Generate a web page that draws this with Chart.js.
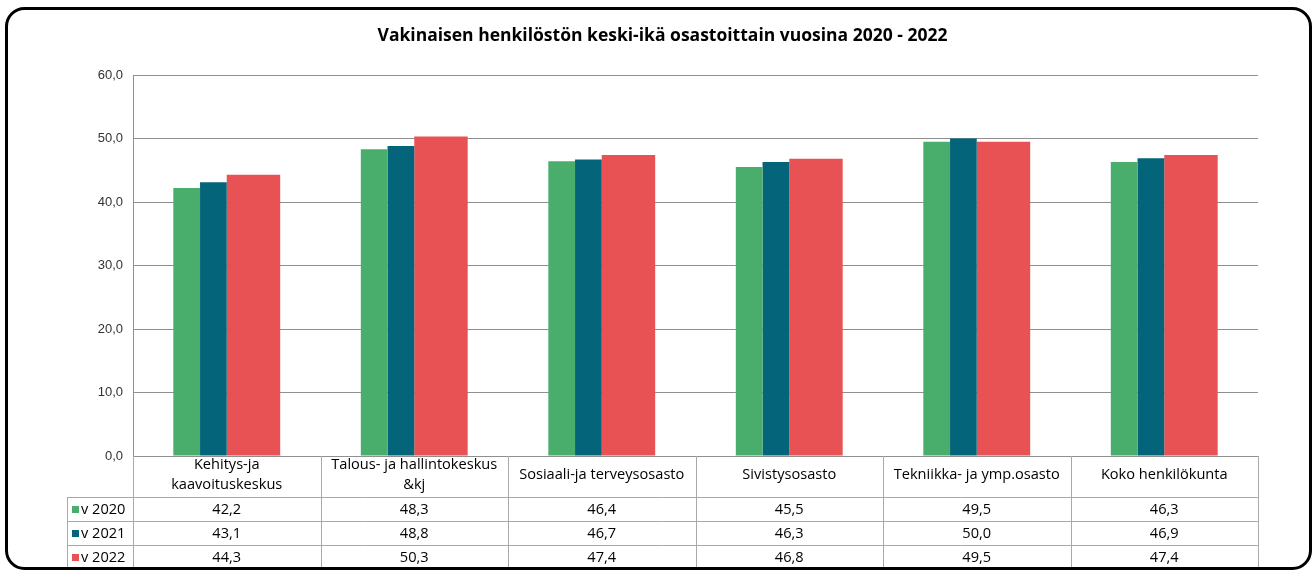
<!DOCTYPE html>
<html><head><meta charset="utf-8">
<script src="https://cdn.jsdelivr.net/npm/chart.js@4"></script>
<style>html,body{margin:0;padding:0;background:#fff}#wrap{width:1315px;height:570px;position:relative}</style>
</head><body><div id="wrap"><canvas id="c" width="1315" height="570"></canvas></div>
<script>
const categories = [['Kehitys-ja','kaavoituskeskus'],['Talous- ja hallintokeskus','&kj'],['Sosiaali-ja terveysosasto'],['Sivistysosasto'],['Tekniikka- ja ymp.osasto'],['Koko henkilökunta']];
const seriesNames = ['v 2020','v 2021','v 2022'];
const v2020 = [42.2,48.3,46.4,45.5,49.5,46.3];
const v2021 = [43.1,48.8,46.7,46.3,50.0,46.9];
const v2022 = [44.3,50.3,47.4,46.8,49.5,47.4];
const yMin = 0, yMax = 60, yStep = 10;
const colors = ['#49ae6c','#04657a','#e85254'];
const titleText = 'Vakinaisen henkilöstön keski-ikä osastoittain vuosina 2020 - 2022';

const seriesValues = [v2020, v2021, v2022];
const fmt = v => v.toFixed(1).replace('.', ',');

// Excel-style group: 2020 and 2021 bars single width, 2022 bar double width
const groupFraction = 0.57;
const barUnits = [1, 1, 2];
const barPlugin = {
  id: 'barLayout',
  afterDatasetsUpdate(chart) {
    const xs = chart.scales.x;
    const step = xs.width / categories.length;
    const total = barUnits.reduce((a, b) => a + b, 0);
    const u = step * groupFraction / total;
    chart.data.datasets.forEach((ds, i) => {
      const meta = chart.getDatasetMeta(i);
      const startUnits = barUnits.slice(0, i).reduce((a, b) => a + b, 0);
      const off = (startUnits + barUnits[i] / 2 - total / 2) * u;
      meta.data.forEach((el, j) => {
        el.x = xs.getPixelForValue(j) + off;
        el.width = barUnits[i] * u;
      });
    });
  }
};

const tableFont = '14.6px "Open Sans"';
const tablePlugin = {
  id: 'dataTable',
  afterDraw(chart) {
    const { ctx, chartArea: a, scales: { x } } = chart;
    const n = categories.length;
    const step = x.width / n;
    const headerBottom = a.bottom + 41;
    const rowH = 24;
    const legendLeft = a.left - 66;
    const bottom = headerBottom + rowH * seriesValues.length;
    const line = (x1, y1, x2, y2) => { ctx.beginPath(); ctx.moveTo(x1, y1); ctx.lineTo(x2, y2); ctx.stroke(); };
    ctx.save();
    ctx.strokeStyle = '#a9a9a9';
    ctx.lineWidth = 1;
    for (let r = 0; r <= seriesValues.length; r++) {
      const y = Math.round(headerBottom + r * rowH) + 0.5;
      line(legendLeft, y, a.right, y);
    }
    for (let j = 0; j <= n; j++) {
      const xx = Math.round(a.left + j * step) + 0.5;
      line(xx, a.bottom, xx, bottom);
    }
    line(legendLeft + 0.5, headerBottom, legendLeft + 0.5, bottom);
    ctx.font = tableFont;
    ctx.textBaseline = 'middle';
    seriesValues.forEach((arr, i) => {
      const y = headerBottom + rowH * (i + 0.5);
      ctx.fillStyle = '#000';
      ctx.textAlign = 'center';
      arr.forEach((v, j) => ctx.fillText(fmt(v), x.getPixelForValue(j), y + 1));
      ctx.fillStyle = colors[i];
      ctx.fillRect(legendLeft + 5, y - 3, 7, 7);
      ctx.fillStyle = '#000';
      ctx.textAlign = 'left';
      ctx.fillText(seriesNames[i], legendLeft + 14, y + 1);
    });
    ctx.strokeStyle = '#000';
    ctx.lineWidth = 3;
    ctx.beginPath();
    ctx.roundRect(6.5, 8.5, 1304, 560, 18);
    ctx.stroke();
    ctx.restore();
  }
};

new Chart(document.getElementById('c'), {
  type: 'bar',
  data: {
    labels: categories,
    datasets: seriesNames.map((name, i) => ({
      label: name,
      data: seriesValues[i],
      backgroundColor: colors[i],
      borderWidth: 0
    }))
  },
  options: {
    responsive: false,
    animation: false,
    devicePixelRatio: 1,
    layout: { padding: { left: 67, right: 57, top: 18, bottom: 0 } },
    plugins: {
      legend: { display: false },
      tooltip: { enabled: false },
      title: {
        display: true,
        text: titleText,
        color: '#000',
        font: { family: '"Open Sans"', size: 17.5, weight: 'bold' },
        padding: { top: 7.5, bottom: 28.5 }
      }
    },
    scales: {
      x: {
        grid: { display: false },
        border: { display: false },
        ticks: {
          color: '#000',
          font: { family: '"Open Sans"', size: 14.6, lineHeight: 1.35 },
          padding: 1,
          crossAlign: 'center',
          autoSkip: false,
          maxRotation: 0,
          minRotation: 0
        },
        afterFit(s) { s.height = 114; }
      },
      y: {
        min: yMin,
        max: yMax,
        grid: { color: '#8f8f8f', drawTicks: false },
        border: { display: true, color: '#8f8f8f' },
        ticks: {
          stepSize: yStep,
          padding: 10,
          color: '#333',
          font: { family: '"Liberation Sans"', size: 13 },
          callback: v => fmt(v)
        },
        afterFit(s) { s.width = 66; }
      }
    }
  },
  plugins: [barPlugin, tablePlugin]
});
</script>
</body></html>
